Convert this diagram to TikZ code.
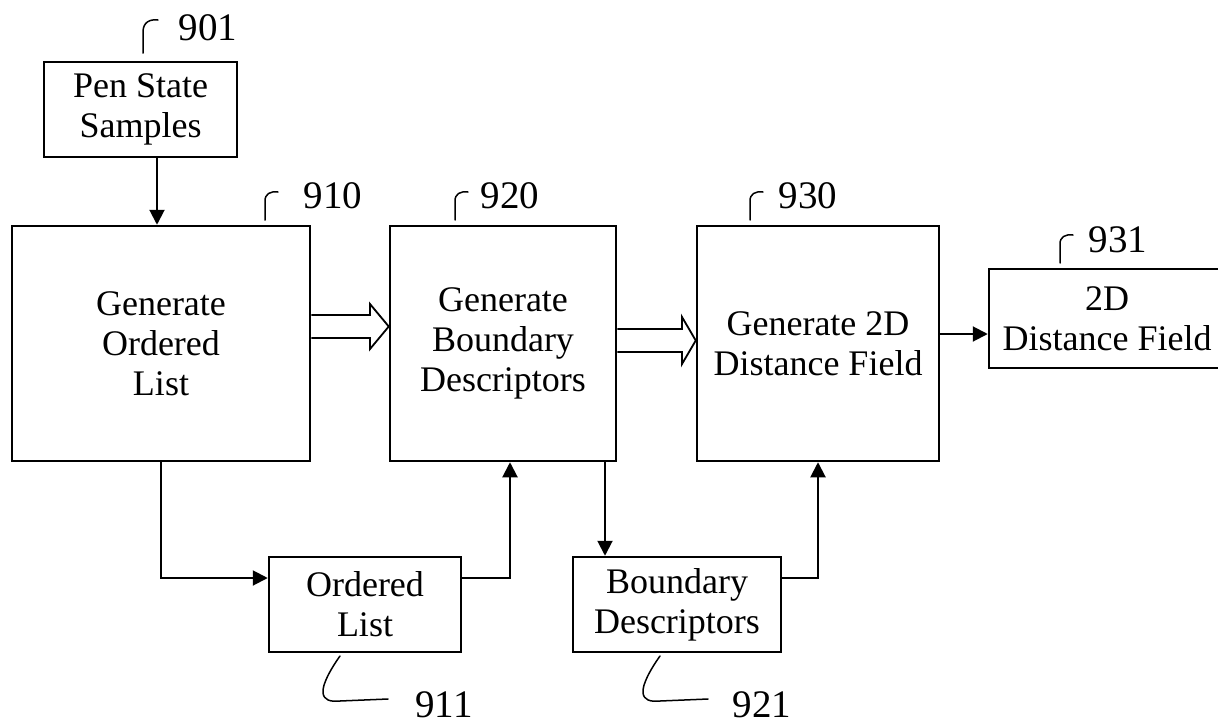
\documentclass[tikz,border=0pt]{standalone}
\usepackage{fontspec}
\setmainfont{Liberation Serif}
\usetikzlibrary{arrows.meta,calc}
\begin{document}
\begin{tikzpicture}[x=1pt,y=-1pt,
 box/.style={draw,line width=2.5pt,align=center,inner sep=0pt,font=\fontsize{36}{40}\selectfont},
 conn/.style={line width=2pt,-{Triangle[length=15pt,width=15pt]}},
 reflabel/.style={font=\fontsize{39}{39}\selectfont,inner sep=0pt},
 lead/.style={line width=1.5pt,line cap=round},
 hollow/.style={line width=1.8pt,fill=white,line join=miter}]
\useasboundingbox (0,0) rectangle (1218,726);
% boxes
\node[box,minimum width=193pt,minimum height=95pt] (n901) at (140.5,109.5) {Pen State\\Samples};
\node[box,minimum width=298pt,minimum height=235pt] (n910) at (161,343.5) {Generate\\Ordered\\List};
\node[box,minimum width=226pt,minimum height=235pt] (n920) at (503,343.5) {Generate\\Boundary\\Descriptors};
\node[box,minimum width=242pt,minimum height=235pt] (n930) at (818,343.5) {Generate 2D\\Distance Field};
\node[box,minimum width=236pt,minimum height=99pt] (n931) at (1107,318.5) {2D\\Distance Field};
\node[box,minimum width=192pt,minimum height=95pt] (n911) at (365,604.5) {Ordered\\List};
\node[box,minimum width=208pt,minimum height=95pt] (n921) at (677,604.5) {Boundary\\Descriptors};
% connectors
\draw[conn] (n901.south -| 157,0) -- (n910.north -| 157,0);
\draw[conn] (n910.south) |- (n911.west |- 0,578);
\draw[conn] (n911.east |- 0,578) -| (n920.south -| 510,0);
\draw[conn] (n920.south -| 605,0) -- (n921.north -| 605,0);
\draw[conn] (n921.east |- 0,578) -| (n930.south);
\draw[conn] (n930.east |- 0,334) -- (n931.west |- 0,334);
% hollow arrows
\draw[hollow] (n910.east |- 0,315) -- (370,315) -- (370,304) -- (n920.west |- 0,326.5) -- (370,349) -- (370,338) -- (n910.east |- 0,338);
\draw[hollow] (n920.east |- 0,329) -- (682,329) -- (682,317) -- (n930.west |- 0,340.5) -- (682,364) -- (682,352) -- (n920.east |- 0,352);
% reference labels
\node[reflabel] (l901) at (208,28) {901};
\node[reflabel] (l910) at (333,196) {910};
\node[reflabel] (l920) at (510,196) {920};
\node[reflabel] (l930) at (808,196) {930};
\node[reflabel] (l931) at (1118,240) {931};
\node[reflabel] (l911) at (444,705) {911};
\node[reflabel] (l921) at (762,705) {921};
% leader hooks
\draw[lead] (143,53) -- (143,32) .. controls (143,22) and (150,19) .. (158,20);
\draw[lead] (265,220) -- (265,201) .. controls (265,194) and (270,191) .. (278,192);
\draw[lead] (455,220) -- (455,201) .. controls (455,194) and (460,191) .. (468,192);
\draw[lead] (750,220) -- (750,201) .. controls (750,194) and (755,191) .. (763,192);
\draw[lead] (1060,263) -- (1060,244) .. controls (1060,237) and (1065,234) .. (1073,235);
\draw[lead] (340,656) .. controls (330,670) and (322,685) .. (323,693) .. controls (324,700) and (330,702) .. (340,701) -- (388,699);
\draw[lead] (660,656) .. controls (650,670) and (642,685) .. (643,693) .. controls (644,700) and (650,702) .. (660,701) -- (708,699);
\end{tikzpicture}
\end{document}
